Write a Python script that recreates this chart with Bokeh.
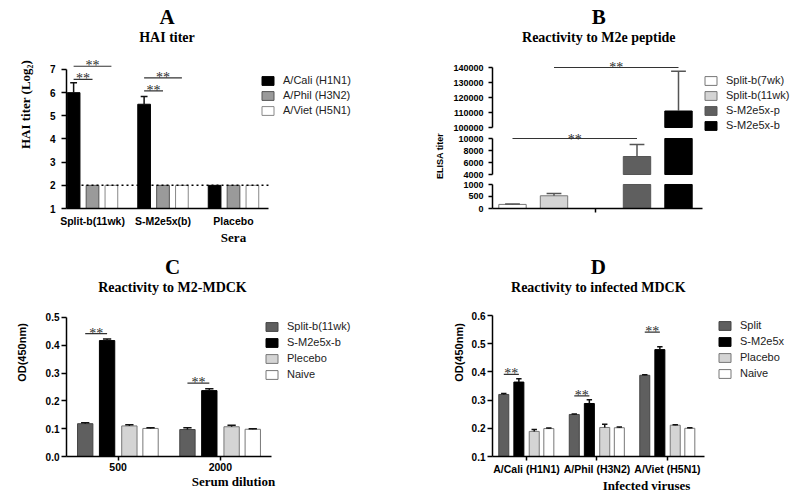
from bokeh.plotting import figure
from bokeh.models import (ColumnDataSource, FixedTicker, Range1d, Legend, LegendItem,
                          Label, LabelSet, NumeralTickFormatter)
from bokeh.layouts import row, column
from bokeh.embed import file_html
from bokeh.resources import INLINE

SANS = "Liberation Sans"
SERIF = "Liberation Serif"

# ---------------- data ----------------
# Panel A : HAI titer (log2)
a_groups = ["Split-b(11wk)", "S-M2e5x(b)", "Placebo"]
a_series = ["A/Cali (H1N1)", "A/Phil (H3N2)", "A/Viet (H5N1)"]
a_cali = [6.0, 5.5, 2.0]
a_cali_err = [0.43, 0.33, 0.0]
a_phil = [2.0, 2.0, 2.0]
a_phil_err = [0.0, 0.0, 0.0]
a_viet = [2.0, 2.0, 2.0]
a_viet_err = [0.0, 0.0, 0.0]
a_limit = 2.0
a_yticks = [1, 2, 3, 4, 5, 6, 7]
a_sig_group = [0, 0, 1, 1]
a_sig_from = [0, 0, 0, 0]
a_sig_to = [1, 2, 1, 2]
a_sig_y = [6.57, 7.14, 6.08, 6.64]

# Panel B : reactivity to M2e peptide (ELISA titer, broken axis)
b_series = ["Split-b(7wk)", "Split-b(11wk)", "S-M2e5x-p", "S-M2e5x-b"]
b_slot = [0, 1, 3, 4]
b_values = [170, 530, 7000, 111000]
b_err = [20, 90, 2000, 26500]
b_seg_bottom = (0, 1000)
b_seg_middle = (4000, 10000)
b_seg_top = (100000, 140000)
b_ticks_bottom = [0, 500, 1000]
b_ticks_middle = [4000, 6000, 8000, 10000]
b_ticks_top = [100000, 110000, 120000, 130000, 140000]
b_sig_from = [0, 1]
b_sig_to = [2, 3]
b_sig_y = [10000, 140000]

# Panel C : reactivity to M2-MDCK
c_groups = ["500", "2000"]
c_series = ["Split-b(11wk)", "S-M2e5x-b", "Plecebo", "Naive"]
c_split = [0.118, 0.097]
c_split_err = [0.003, 0.006]
c_m2e = [0.417, 0.237]
c_m2e_err = [0.006, 0.007]
c_placebo = [0.110, 0.107]
c_placebo_err = [0.004, 0.005]
c_naive = [0.101, 0.098]
c_naive_err = [0.002, 0.002]
c_yticks = [0.0, 0.1, 0.2, 0.3, 0.4, 0.5]
c_sig_y = [0.442, 0.264]

# Panel D : reactivity to infected MDCK
d_groups = ["A/Cali (H1N1)", "A/Phil (H3N2)", "A/Viet (H5N1)"]
d_series = ["Split", "S-M2e5x", "Placebo", "Naive"]
d_split = [0.320, 0.249, 0.388]
d_split_err = [0.003, 0.002, 0.002]
d_m2e = [0.364, 0.288, 0.479]
d_m2e_err = [0.012, 0.013, 0.010]
d_placebo = [0.189, 0.203, 0.211]
d_placebo_err = [0.007, 0.011, 0.002]
d_naive = [0.199, 0.202, 0.200]
d_naive_err = [0.002, 0.003, 0.002]
d_yticks = [0.1, 0.2, 0.3, 0.4, 0.5, 0.6]
d_sig_y = [0.391, 0.315, 0.541]

# ---------------- styling helpers ----------------
BLACK = "#000000"


def base_fig(w, h, xr, yr, bl, br, bt, bb, xaxis=True):
    p = figure(width=w, height=h, x_range=Range1d(*xr), y_range=Range1d(*yr),
               output_backend="svg", toolbar_location=None, tools="", title=None,
               min_border_left=bl, min_border_right=br, min_border_top=bt,
               min_border_bottom=bb, x_axis_location=("below" if xaxis else None))
    p.outline_line_color = None
    p.grid.visible = False
    p.background_fill_color = "white"
    p.border_fill_color = "white"
    return p


def style_axis(ax, tick_out=4, size="10px", standoff=4):
    ax.axis_line_color = BLACK
    ax.axis_line_width = 1.5
    ax.major_tick_line_color = BLACK
    ax.major_tick_line_width = 1.5
    ax.major_tick_in = 0
    ax.major_tick_out = tick_out
    ax.minor_tick_line_color = None
    ax.major_label_text_font = SANS
    ax.major_label_text_font_style = "bold"
    ax.major_label_text_font_size = size
    ax.major_label_text_color = BLACK
    ax.major_label_standoff = standoff
    ax.axis_label_text_color = BLACK


def axis_label(ax, text, font, size, standoff):
    ax.axis_label = text
    ax.axis_label_text_font = font
    ax.axis_label_text_font_size = size
    ax.axis_label_text_font_style = "bold"
    ax.axis_label_standoff = standoff


def draw_bars(p, xs, vals, errs, width, fill, line, bottom, err_color, cap=None):
    """Bars from `bottom`; optional `cap` clips the bar top at an axis break."""
    keep = [i for i, v in enumerate(vals) if v > bottom]
    if keep:
        bx = [xs[i] for i in keep]
        bt = [min(vals[i], cap) if cap is not None else vals[i] for i in keep]
        r = p.vbar(x=bx, top=bt, bottom=bottom, width=width, fill_color=fill,
                   line_color=line, line_width=1)
    else:
        # series lies wholly below this axis segment: keep a hidden renderer for the legend
        r = p.vbar(x=xs, top=vals, bottom=0, width=width, fill_color=fill,
                   line_color=line, line_width=1, visible=False)
    idx = [i for i, e in enumerate(errs) if e > 0]
    if idx:
        ex = [xs[i] for i in idx]
        ev = [vals[i] for i in idx]
        et = [vals[i] + errs[i] for i in idx]
        p.segment(x0=ex, y0=ev, x1=ex, y1=et, line_color=err_color, line_width=1.5)
        p.segment(x0=[x - width * 0.27 for x in ex], y0=et,
                  x1=[x + width * 0.27 for x in ex], y1=et,
                  line_color=err_color, line_width=1.5)
    return r


def add_sig(p, x0, x1, y, size="14px", yoff=-4):
    p.segment(x0=x0, y0=y, x1=x1, y1=y, line_color="#333333", line_width=1.2)
    src = ColumnDataSource(dict(x=[(a + b) / 2 for a, b in zip(x0, x1)], y=y,
                                t=["**"] * len(y)))
    p.add_layout(LabelSet(x="x", y="y", text="t", source=src, text_align="center",
                          text_baseline="alphabetic", y_offset=yoff,
                          text_font=SANS, text_font_size=size, text_color="#2a2a2a"))


def add_titles(p, letter, subtitle, cx, y_letter, y_sub):
    # positions in screen px relative to the frame's bottom-left corner
    p.add_layout(Label(x=cx, y=y_letter, x_units="screen", y_units="screen",
                       text=letter, text_align="center", text_baseline="middle",
                       text_font=SERIF, text_font_style="bold", text_font_size="21px",
                       text_color=BLACK))
    p.add_layout(Label(x=cx, y=y_sub, x_units="screen", y_units="screen",
                       text=subtitle, text_align="center", text_baseline="middle",
                       text_font=SERIF, text_font_style="bold", text_font_size="14px",
                       text_color=BLACK))


def add_legend(p, names, rends, loc, spacing):
    leg = Legend(items=[LegendItem(label=n, renderers=[r]) for n, r in zip(names, rends)],
                 location=loc, orientation="vertical", glyph_width=15, glyph_height=11,
                 label_standoff=8, spacing=spacing, padding=0, margin=0,
                 border_line_color=None, background_fill_alpha=0,
                 inactive_fill_alpha=0, click_policy="none",
                 label_text_font=SANS, label_text_font_size="11px", label_height=12,
                 label_text_color="#222222")
    p.add_layout(leg)


# ---------------- Panel A ----------------
a_off = [-0.268, 0.0, 0.268]
a_bw = 0.18
a_xb = (-0.369, 2.496)
pA = base_fig(400, 248, (a_xb[0], 4.369), (1, 9.978), 66, 0, 0, 40)
a_vals = [a_cali, a_phil, a_viet]
a_errs = [a_cali_err, a_phil_err, a_viet_err]
a_fill = ["#000000", "#9a9a9a", "#ffffff"]
a_line = ["#000000", "#555555", "#888888"]
a_r = []
for k in range(3):
    xs = [g + a_off[k] for g in range(len(a_groups))]
    a_r.append(draw_bars(pA, xs, a_vals[k], a_errs[k], a_bw, a_fill[k], a_line[k], 1, "#111111"))
pA.segment(x0=[a_xb[0]], y0=[a_limit], x1=[a_xb[1]], y1=[a_limit], line_color=BLACK,
           line_dash="2 3", line_width=1.5)
add_sig(pA, [g + a_off[f] for g, f in zip(a_sig_group, a_sig_from)],
        [g + a_off[t] for g, t in zip(a_sig_group, a_sig_to)], a_sig_y)
style_axis(pA.yaxis[0], tick_out=5, size="10px", standoff=6)
pA.yaxis[0].ticker = FixedTicker(ticks=a_yticks)
pA.yaxis[0].bounds = (1, 7)
axis_label(pA.yaxis[0], "HAI titer (Log\u2082)", SERIF, "13px", 14)
style_axis(pA.xaxis[0], tick_out=0, size="10.5px", standoff=6)
pA.xaxis[0].ticker = FixedTicker(ticks=list(range(len(a_groups))))
pA.xaxis[0].major_label_overrides = {i: g for i, g in enumerate(a_groups)}
pA.xaxis[0].bounds = a_xb
axis_label(pA.xaxis[0], "Sera", SERIF, "13px", 0)
add_titles(pA, "A", "HAI titer", 100.5, 191.3, 171.3)
add_legend(pA, a_series, a_r, (194, 92), 3)

# ---------------- Panel B (broken axis: three stacked segments) ----------------
b_xb = (-0.482, 4.578)
b_xr = (b_xb[0], 6.94)
b_bw = 0.66
b_fill = ["#ffffff", "#d4d4d4", "#5f5f5f", "#000000"]
b_line = ["#777777", "#777777", "#555555", "#000000"]

pBt = base_fig(400, 132, b_xr, (96666.7, 184666.7), 92, 0, 0, 0, xaxis=False)
pBm = base_fig(400, 47, b_xr, (3166.7, 11000), 92, 0, 0, 0, xaxis=False)
pBb = base_fig(400, 69, b_xr, (b_seg_bottom[0], 1208.3), 92, 0, 0, 40)

b_rends = None
for p, seg, ticks in ((pBt, b_seg_top, b_ticks_top), (pBm, b_seg_middle, b_ticks_middle),
                      (pBb, b_seg_bottom, b_ticks_bottom)):
    rs = []
    for k in range(len(b_series)):
        rs.append(draw_bars(p, [b_slot[k]], [b_values[k]], [b_err[k]], b_bw,
                            b_fill[k], b_line[k], seg[0], "#555555",
                            cap=(seg[1] if p is not pBt else None)))
    if p is pBt:
        b_rends = rs
    ax = p.yaxis[0]
    style_axis(ax, tick_out=4, size="9px", standoff=5)
    ax.ticker = FixedTicker(ticks=ticks)
    ax.formatter = NumeralTickFormatter(format="0")
    ax.bounds = seg

add_sig(pBm, [b_slot[b_sig_from[0]]], [b_slot[b_sig_to[0]]], [b_sig_y[0]], yoff=-5)
add_sig(pBt, [b_slot[b_sig_from[1]]], [b_slot[b_sig_to[1]]], [b_sig_y[1]])
axis_label(pBm.yaxis[0], "ELISA titer", SANS, "9px", 10)
style_axis(pBb.xaxis[0], tick_out=4, size="10px", standoff=4)
pBb.xaxis[0].ticker = FixedTicker(ticks=[2])
pBb.xaxis[0].major_label_overrides = {2: ""}
pBb.xaxis[0].bounds = b_xb
add_titles(pBt, "B", "Reactivity to M2e peptide", 106.3, 115.3, 94.7)
add_legend(pBt, b_series, b_rends, (211, 1), 3)

# ---------------- Panel C ----------------
cd_off = [-0.322, -0.108, 0.110, 0.317]
cd_fill = ["#5f5f5f", "#000000", "#d4d4d4", "#ffffff"]
cd_line = ["#444444", "#000000", "#777777", "#777777"]
c_xb = (-0.505, 1.505)
pC = base_fig(400, 250, (c_xb[0], 2.762), (0, 0.7482), 57, 0, 0, 42)
c_vals = [c_split, c_m2e, c_placebo, c_naive]
c_errs = [c_split_err, c_m2e_err, c_placebo_err, c_naive_err]
c_r = []
for k in range(4):
    xs = [g + cd_off[k] for g in range(len(c_groups))]
    c_r.append(draw_bars(pC, xs, c_vals[k], c_errs[k], 0.15, cd_fill[k], cd_line[k], 0, "#111111"))
add_sig(pC, [g + cd_off[0] for g in range(len(c_groups))],
        [g + cd_off[1] for g in range(len(c_groups))], c_sig_y)
style_axis(pC.yaxis[0], tick_out=5, size="10px", standoff=2)
pC.yaxis[0].ticker = FixedTicker(ticks=c_yticks)
pC.yaxis[0].formatter = NumeralTickFormatter(format="0.0")
pC.yaxis[0].bounds = (0, 0.5)
axis_label(pC.yaxis[0], "OD(450nm)", SANS, "11px", 15)
style_axis(pC.xaxis[0], tick_out=4, size="10.5px", standoff=2)
pC.xaxis[0].ticker = FixedTicker(ticks=list(range(len(c_groups))))
pC.xaxis[0].major_label_overrides = {i: g for i, g in enumerate(c_groups)}
pC.xaxis[0].bounds = c_xb
axis_label(pC.xaxis[0], "Serum dilution", SERIF, "13px", 0)
add_titles(pC, "C", "Reactivity to M2-MDCK", 106, 189.3, 169.3)
add_legend(pC, c_series, c_r, (198, 76), 4)

# ---------------- Panel D ----------------
d_xb = (-0.482, 2.525)
pD = base_fig(400, 250, (d_xb[0], 3.887), (0.1, 0.8376), 92, 0, 0, 42)
d_vals = [d_split, d_m2e, d_placebo, d_naive]
d_errs = [d_split_err, d_m2e_err, d_placebo_err, d_naive_err]
d_r = []
for k in range(4):
    xs = [g + cd_off[k] for g in range(len(d_groups))]
    d_r.append(draw_bars(pD, xs, d_vals[k], d_errs[k], 0.142, cd_fill[k], cd_line[k], 0.1, "#111111"))
add_sig(pD, [g + cd_off[0] for g in range(len(d_groups))],
        [g + cd_off[1] for g in range(len(d_groups))], d_sig_y)
style_axis(pD.yaxis[0], tick_out=5, size="10px", standoff=2)
pD.yaxis[0].ticker = FixedTicker(ticks=d_yticks)
pD.yaxis[0].formatter = NumeralTickFormatter(format="0.0")
pD.yaxis[0].bounds = (0.1, 0.6)
axis_label(pD.yaxis[0], "OD(450nm)", SANS, "11px", 4)
style_axis(pD.xaxis[0], tick_out=4, size="10.5px", standoff=2)
pD.xaxis[0].ticker = FixedTicker(ticks=list(range(len(d_groups))))
pD.xaxis[0].major_label_overrides = {i: g for i, g in enumerate(d_groups)}
pD.xaxis[0].bounds = d_xb
axis_label(pD.xaxis[0], "Infected viruses", SERIF, "13px", 0)
add_titles(pD, "D", "Reactivity to infected MDCK", 105.8, 189.3, 168.7)
add_legend(pD, d_series, d_r, (225, 77), 4)

layout = row(column(pA, pC), column(pBt, pBm, pBb, pD))
open("out.html", "w").write(file_html(layout, INLINE))
